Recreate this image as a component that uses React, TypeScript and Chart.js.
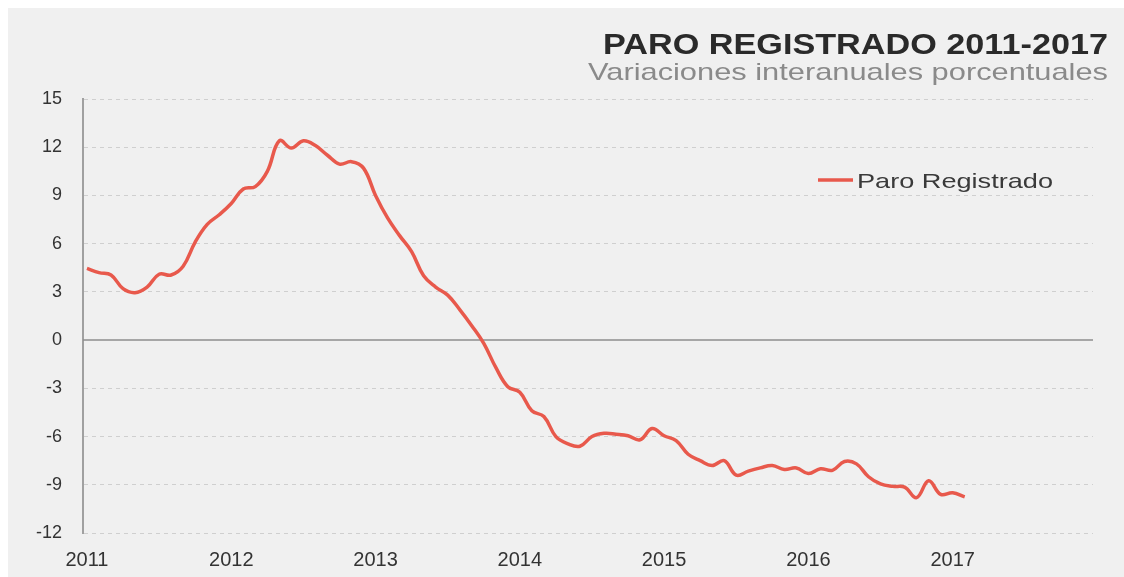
import React, { useEffect, useRef } from "react";
import { Chart, registerables } from "chart.js";

Chart.register(...registerables);

// ---- data ----
const yearLabels = ["2011", "2012", "2013", "2014", "2015", "2016", "2017"];
// monthly year-on-year % change, Jan 2011 .. Feb 2017
const paroValues = [
  4.46, 4.2, 4.05, 3.2, 2.95, 3.3, 4.1, 4.05, 4.6, 6.1, 7.2, 7.8,
  8.5, 9.4, 9.55, 10.5, 12.4, 11.95, 12.4, 12.1, 11.5, 10.95, 11.1, 10.7,
  9.0, 7.6, 6.5, 5.5, 4.0, 3.3, 2.8, 1.9, 0.9, -0.2, -1.7, -2.9,
  -3.25, -4.4, -4.75, -6.0, -6.45, -6.6, -6.0, -5.8, -5.85, -5.95, -6.2, -5.5,
  -5.95, -6.25, -7.1, -7.5, -7.8, -7.5, -8.4, -8.15, -7.95, -7.8, -8.05, -7.95,
  -8.3, -8.0, -8.1, -7.55, -7.7, -8.5, -8.95, -9.1, -9.15, -9.8, -8.75, -9.6,
  -9.5, -9.75,
];
const yMin = -12;
const yMax = 15;
const yStep = 3;
const titleText = "PARO REGISTRADO 2011-2017";
const subtitleText = "Variaciones interanuales porcentuales";
const seriesLabel = "Paro Registrado";

const LINE_COLOR = "#e8594c";
const FONT = "'Liberation Sans', Arial, sans-serif";

function drawFitted(
  ctx: CanvasRenderingContext2D,
  text: string,
  x: number,
  y: number,
  font: string,
  color: string,
  width: number,
  align: "left" | "right"
) {
  ctx.save();
  ctx.font = font;
  ctx.fillStyle = color;
  ctx.textBaseline = "alphabetic";
  ctx.textAlign = "left";
  const w = ctx.measureText(text).width;
  const s = width / w;
  const left = align === "right" ? x - width : x;
  ctx.translate(left, y);
  ctx.scale(s, 1);
  ctx.fillText(text, 0, 0);
  ctx.restore();
}

const decorPlugin = {
  id: "decor",
  beforeDatasetsDraw(chart: any) {
    const { ctx, chartArea, scales } = chart;
    const y0 = scales.y.getPixelForValue(0);
    ctx.save();
    ctx.strokeStyle = "#8e8e8e";
    ctx.lineWidth = 1.5;
    ctx.beginPath();
    ctx.moveTo(chartArea.left, y0);
    ctx.lineTo(chartArea.right, y0);
    ctx.stroke();
    ctx.restore();
  },
  afterDraw(chart: any) {
    const { ctx } = chart;
    drawFitted(ctx, titleText, 1100, 46, `bold 30px ${FONT}`, "#2a2a2a", 505, "right");
    drawFitted(ctx, subtitleText, 1100, 72, `24px ${FONT}`, "#8a8a8a", 520, "right");
    // legend
    ctx.save();
    ctx.strokeStyle = LINE_COLOR;
    ctx.lineWidth = 3.5;
    ctx.beginPath();
    ctx.moveTo(810, 172);
    ctx.lineTo(845, 172);
    ctx.stroke();
    ctx.restore();
    drawFitted(ctx, seriesLabel, 849, 180, `21px ${FONT}`, "#3a3a3a", 196, "left");
  },
};

export default function App() {
  const ref = useRef<HTMLCanvasElement | null>(null);

  useEffect(() => {
    if (!ref.current) return;
    const chart = new Chart(ref.current, {
      type: "line",
      data: {
        datasets: [
          {
            label: seriesLabel,
            data: paroValues.map((v, i) => ({ x: i, y: v })),
            borderColor: LINE_COLOR,
            backgroundColor: LINE_COLOR,
            borderWidth: 3.5,
            pointRadius: 0,
            tension: 0.4,
            fill: false,
          },
        ],
      },
      options: {
        animation: false,
        responsive: false,
        layout: { padding: { top: 91, right: 31, left: 0, bottom: 0 } },
        plugins: {
          legend: { display: false },
          tooltip: { enabled: false },
        },
        scales: {
          x: {
            type: "linear",
            min: -0.33,
            max: 83.67,
            grid: { display: false },
            border: { display: false },
            afterBuildTicks: (s: any) => {
              s.ticks = yearLabels.map((_, k) => ({ value: k * 12 }));
            },
            afterFit: (s: any) => {
              s.height = 44;
            },
            ticks: {
              autoSkip: false,
              maxRotation: 0,
              padding: 7,
              color: "#333333",
              font: { family: FONT, size: 20 },
              callback: (v: any) => yearLabels[Math.round(Number(v) / 12)] ?? "",
            },
          },
          y: {
            min: yMin,
            max: yMax,
            afterFit: (s: any) => {
              s.width = 75;
            },
            ticks: {
              stepSize: yStep,
              padding: 21,
              color: "#333333",
              font: { family: FONT, size: 18 },
            },
            grid: {
              drawTicks: false,
              lineWidth: 1,
              color: (c: any) => (c.tick && c.tick.value === 0 ? "rgba(0,0,0,0)" : "#cfcfcf"),
            },
            border: { display: true, color: "#a0a0a0", width: 2, dash: [4, 4] },
          },
        },
      },
      plugins: [decorPlugin],
    });
    return () => chart.destroy();
  }, []);

  return (
    <div
      style={{
        position: "fixed",
        left: 8,
        top: 8,
        width: 1116,
        height: 569,
        background: "#f0f0f0",
      }}
    >
      <canvas ref={ref} width={1116} height={569} style={{ display: "block" }} />
    </div>
  );
}
